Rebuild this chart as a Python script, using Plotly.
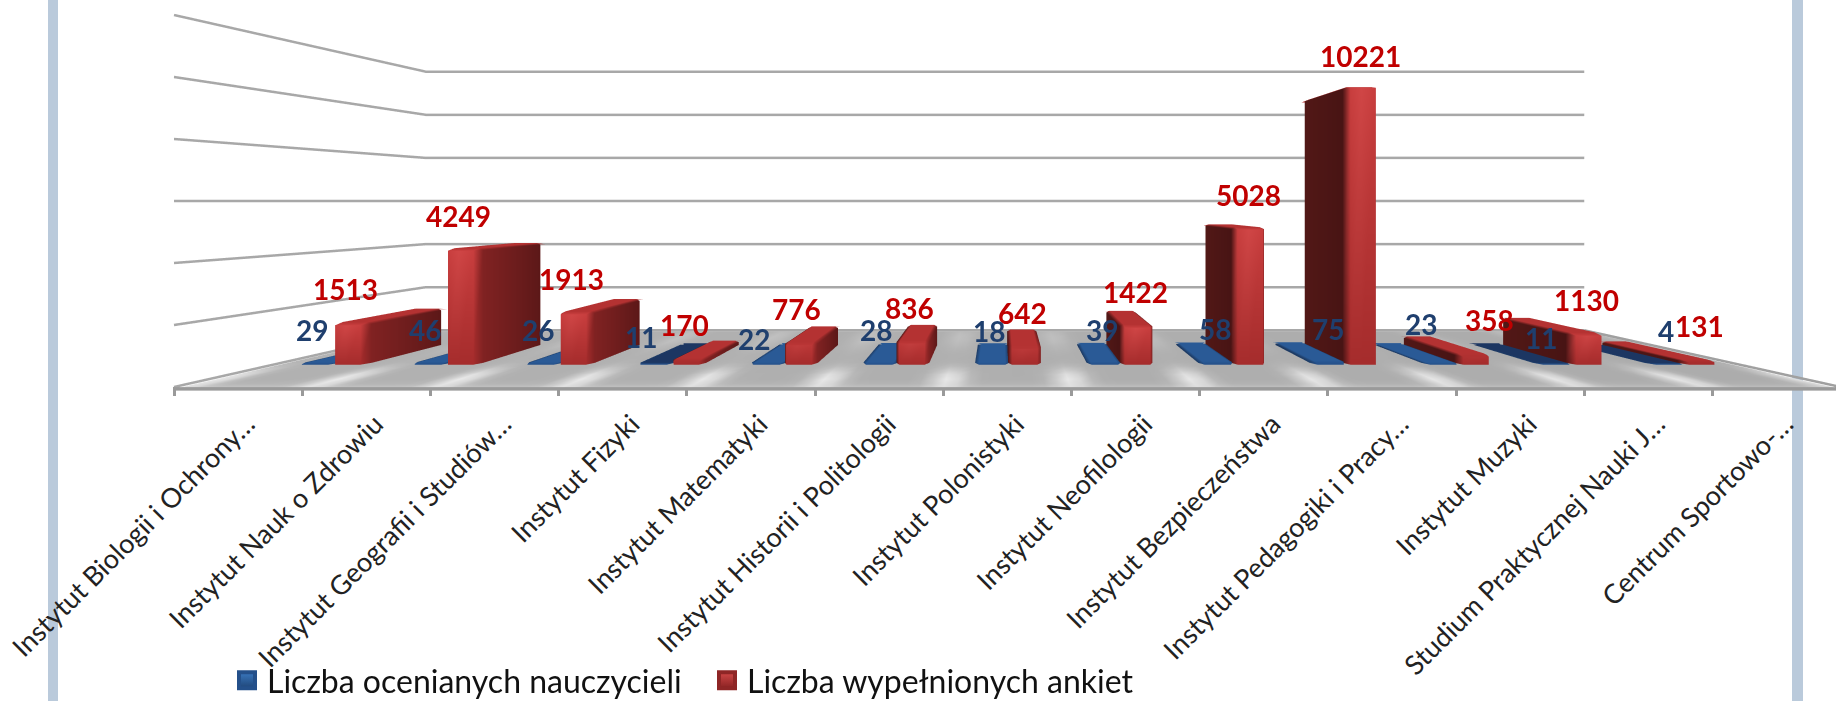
import math
import plotly.graph_objects as go

# ---------- data ----------
categories = [
    "Instytut Biologii i Ochrony…", "Instytut Nauk o Zdrowiu", "Instytut Geografii i Studiów…",
    "Instytut Fizyki", "Instytut Matematyki", "Instytut Historii i Politologii",
    "Instytut Polonistyki", "Instytut Neofilologii", "Instytut Bezpieczeństwa",
    "Instytut Pedagogiki i Pracy…", "Instytut Muzyki", "Studium Praktycznej Nauki J…",
    "Centrum Sportowo-…",
]
teachers = [29, 46, 26, 11, 22, 28, 18, 39, 58, 75, 23, 11, 4]
surveys = [1513, 4249, 1913, 170, 776, 836, 642, 1422, 5028, 10221, 358, 1130, 131]
series_names = ["Liczba ocenianych nauczycieli", "Liczba wypełnionych ankiet"]
value_ticks = [0, 2000, 4000, 6000, 8000, 10000, 12000]

# ---------- layout constants ----------
W, H = 1836, 701
n = len(categories)
VMAX = value_ticks[-1]
cat_px = 128.2
x0_px = 174.0
floor_px = 385.0
step_px = 62.0
back_ratio = 0.695
bar_ratio = 0.88
domain_left = 164.0
domain_h = 402.0
P = (domain_h / 2) / math.tan(math.pi / 8)

PX, PD, PV = 0.1, 0.02, 200.0
xr = [-PX, n + PX]
dr = [-PD, 1 + PD]
zr = [-PV, VMAX + PV]
A = (xr[1] - xr[0]) * cat_px
scale = 3.0 / A
ax = 3.0
az = (zr[1] - zr[0]) / 2000 * step_px * scale
D_f = P * scale
dep = D_f * (1 / back_ratio - 1)      # scene depth of the floor
ay = dep * (dr[1] - dr[0])
eye_y = -(D_f + dep * 0.5)
eye_x = -((x0_px + n / 2 * cat_px) - (domain_left + W) / 2) * scale


def d_of(s):
    return (1 / s - 1) / (1 / back_ratio - 1)


BAR_D0 = d_of(0.88)
BAR_D1 = d_of(0.766)


class Mesh:
    def __init__(self):
        self.x, self.y, self.z, self.c, self.i, self.j, self.k = [], [], [], [], [], [], []

    def poly(self, pts, cols):
        b = len(self.x)
        for p, c in zip(pts, cols):
            self.x.append(p[0]); self.y.append(p[1]); self.z.append(p[2])
            self.c.append("rgb(%d,%d,%d)" % tuple(c))
        for t in range(1, len(pts) - 1):
            self.i.append(b); self.j.append(b + t); self.k.append(b + t + 1)

    def trace(self, name):
        return go.Mesh3d(x=self.x, y=self.y, z=self.z, i=self.i, j=self.j, k=self.k,
                         vertexcolor=self.c, flatshading=False, hoverinfo="skip", name=name,
                         lighting=dict(ambient=1, diffuse=0, specular=0, roughness=1, fresnel=0),
                         showscale=False)


def mix(a, b, t):
    return [a[q] + (b[q] - a[q]) * t for q in range(3)]


RED = dict(fl=(176, 50, 50), fm=(208, 70, 70), ftop=(200, 62, 62), fb=(165, 44, 44),
           sr_f=(128, 34, 34), sr_b=(92, 24, 24), sl_f=(72, 20, 20), sl_b=(82, 24, 22),
           top=(180, 50, 50))
BLUE = dict(fl=(42, 88, 148), fm=(48, 98, 160), ftop=(44, 92, 150), fb=(38, 82, 140),
            sr_f=(30, 62, 105), sr_b=(28, 55, 95), sl_f=(30, 62, 105), sl_b=(28, 55, 95),
            top=(42, 90, 150))


def add_bar(m, xa, xb, ya, yb, h, pal, top=None):
    bx, by = 0.035, 0.03
    bz = min(70.0, h * 0.3)
    t = top or pal["top"]
    zt = h - bz
    xl, xr2 = xa + bx, xb - bx
    yf, yk = ya + by, yb - by
    hf = min(1.0, h / 1200.0)
    ftop = mix(pal["fb"], pal["ftop"], hf)
    fmt = mix(pal["fb"], pal["fm"], hf)
    xm = xa + (xb - xa) * 0.45
    m.poly([(xl, ya, 0), (xm, ya, 0), (xm, ya, zt), (xl, ya, zt)], [pal["fb"], pal["fb"], fmt, ftop])
    m.poly([(xm, ya, 0), (xr2, ya, 0), (xr2, ya, zt), (xm, ya, zt)], [pal["fb"], pal["fb"], ftop, fmt])
    m.poly([(xr2, ya, 0), (xb, yf, 0), (xb, yf, zt), (xr2, ya, zt)], [pal["fb"], pal["sr_f"], pal["sr_f"], ftop])
    m.poly([(xa, yf, 0), (xl, ya, 0), (xl, ya, zt), (xa, yf, zt)], [pal["sl_f"], pal["fb"], ftop, pal["sl_f"]])
    m.poly([(xb, yf, 0), (xb, yk, 0), (xb, yk, zt), (xb, yf, zt)], [pal["sr_f"], pal["sr_b"], pal["sr_b"], pal["sr_f"]])
    m.poly([(xa, yk, 0), (xa, yf, 0), (xa, yf, zt), (xa, yk, zt)], [pal["sl_b"], pal["sl_f"], pal["sl_f"], pal["sl_b"]])
    m.poly([(xl, yf, h), (xr2, yf, h), (xr2, yk, h), (xl, yk, h)], [t] * 4)
    m.poly([(xl, ya, zt), (xr2, ya, zt), (xr2, yf, h), (xl, yf, h)], [ftop, ftop, t, t])
    m.poly([(xr2, yf, h), (xb, yf, zt), (xb, yk, zt), (xr2, yk, h)], [t, pal["sr_f"], pal["sr_b"], t])
    m.poly([(xa, yf, zt), (xl, yf, h), (xl, yk, h), (xa, yk, zt)], [pal["sl_f"], t, t, pal["sl_b"]])
    m.poly([(xl, yk, h), (xr2, yk, h), (xb, yb, zt), (xa, yb, zt)], [t, t, t, t])
    m.poly([(xr2, ya, zt), (xb, yf, zt), (xr2, yf, h)], [ftop, pal["sr_f"], t])
    m.poly([(xl, ya, zt), (xl, yf, h), (xa, yf, zt)], [ftop, t, pal["sl_f"]])


# ---------- floor ----------
floor = Mesh()
Z_FLOOR = -60.0


def floor_col(X, d):
    # bright reflections running in depth through the gaps between the bars
    u = X - math.floor(X)
    gap = min(abs(u - 0.02), abs(u - 1.02))
    band = math.exp(-(gap / 0.14) ** 2)
    front = math.exp(-((d - 0.13) / 0.15) ** 2)
    backb = 0.3 * math.exp(-((d - 0.85) / 0.25) ** 2)
    v = 172 + 6 * (1 - X / n) + 58 * band * min(1.0, front + backb) + 22 * math.exp(-(d / 0.05) ** 2)
    v = min(v, 240)
    return (v, v, v)


NX, ND = n * 10, 16
for a in range(NX):
    for b in range(ND):
        X0, X1 = a / NX * n, (a + 1) / NX * n
        d0, d1 = b / ND, (b + 1) / ND
        floor.poly([(X0, d0, Z_FLOOR), (X1, d0, Z_FLOOR), (X1, d1, Z_FLOOR), (X0, d1, Z_FLOOR)],
                   [floor_col(X0, d0), floor_col(X1, d0), floor_col(X1, d1), floor_col(X0, d1)])

# ---------- bars ----------
reds, blues = Mesh(), Mesh()
for idx in range(n):
    c_top = (28, 54, 98) if teachers[idx] <= 11 else None
    add_bar(blues, idx + 0.22, idx + 0.525, BAR_D0, BAR_D1, teachers[idx], BLUE, c_top)
    add_bar(reds, idx + 0.515, idx + 0.81, BAR_D0, BAR_D1, surveys[idx], RED)

# ---------- gridlines ----------
gx, gy, gz = [], [], []
for v in value_ticks:
    gx += [0, 0, n, None]
    gy += [0, 1, 1, None]
    gz += [v, v, v, None]
front_x, front_y, front_z = [0, n], [0, 0], [Z_FLOOR, Z_FLOOR]
rim_x, rim_y, rim_z = [n, n], [0, 1], [0, 0]

data = [
    floor.trace("floor"),
    go.Scatter3d(x=gx, y=gy, z=gz, mode="lines", line=dict(color="#A8A8A8", width=5),
                 hoverinfo="skip", showlegend=False),
    go.Scatter3d(x=front_x, y=front_y, z=front_z, mode="lines", line=dict(color="#9A9A9A", width=7),
                 hoverinfo="skip", showlegend=False),
    go.Scatter3d(x=rim_x, y=rim_y, z=rim_z, mode="lines", line=dict(color="#A0A0A0", width=5),
                 hoverinfo="skip", showlegend=False),
    blues.trace(series_names[0]),
    reds.trace(series_names[1]),
    go.Scatter(x=[None], y=[None], mode="markers", name=series_names[0], xaxis="x", yaxis="y",
               marker=dict(symbol="square", size=16, color="#3A78BE",
                           gradient=dict(type="vertical", color="#1F4577"),
                           line=dict(color="#24508A", width=4))),
    go.Scatter(x=[None], y=[None], mode="markers", name=series_names[1], xaxis="x", yaxis="y",
               marker=dict(symbol="square", size=16, color="#D04848",
                           gradient=dict(type="vertical", color="#8A2222"),
                           line=dict(color="#8E2626", width=4))),
    go.Scatter(x=[0.5], y=[0], mode="markers", marker=dict(opacity=0), xaxis="x2", yaxis="y",
               showlegend=False, hoverinfo="skip"),
]

# ---------- value labels ----------
plane_cat = cat_px * bar_ratio
plane_val = step_px / 2000 * bar_ratio * 0.984
RED_LABEL = "#C00000"
BLUE_LABEL = "#1F3F6E"
blue_nudge = {3: (-10, -6), 4: (-10, -9), 10: (-20, 6), 11: (-12, -7)}
red_nudge = {10: (16, 0)}
annotations = []
for idx in range(n):
    dx, dy = red_nudge.get(idx, (0, 0))
    annotations.append(dict(x=idx + 0.635, y=surveys[idx], xref="x2", yref="y", text=str(surveys[idx]),
                            showarrow=False, xshift=dx, yshift=33 + dy,
                            font=dict(family="Lato", size=28, color=RED_LABEL, weight="bold")))
    dx, dy = blue_nudge.get(idx, (0, 0))
    annotations.append(dict(x=idx + 0.34, y=teachers[idx], xref="x2", yref="y", text=str(teachers[idx]),
                            showarrow=False, xshift=dx, yshift=32 + dy,
                            font=dict(family="Lato", size=28, color=BLUE_LABEL, weight="bold")))

fig = go.Figure(data)
fig.update_layout(
    width=W, height=H, margin=dict(l=0, r=0, t=0, b=0, autoexpand=False), autosize=False,
    paper_bgcolor="white", plot_bgcolor="rgba(0,0,0,0)",
    font=dict(family="Lato", color="#111111"),
    hovermode=False,
    annotations=annotations,
    shapes=[
        dict(type="rect", xref="paper", yref="paper", x0=48 / W, x1=58 / W, y0=0, y1=1, layer="below",
             fillcolor="#BACADB", line_width=0),
        dict(type="rect", xref="paper", yref="paper", x0=1792 / W, x1=1803 / W, y0=0, y1=1, layer="below",
             fillcolor="#BACADB", line_width=0),
    ],
    legend=dict(orientation="h", x=227 / W, xanchor="left", y=-7 / H, yanchor="bottom",
                font=dict(size=32, family="Lato", color="#111111"), itemsizing="trace",
                entrywidth=435, entrywidthmode="pixels", itemwidth=30,
                bgcolor="rgba(0,0,0,0)", itemclick=False, itemdoubleclick=False),
    xaxis=dict(domain=[0, 1], range=[-x0_px / cat_px, (W - x0_px) / cat_px], anchor="free",
               position=1 - (floor_px + 1) / H,
               tickmode="array", tickvals=[q + 0.5 for q in range(n)], ticktext=categories,
               tickangle=-45, ticks="", showgrid=False, zeroline=False, showline=False,
               tickfont=dict(family="Lato", size=27, color="#222222"),
               ticklabelstandoff=16, ticklabelshift=9, automargin=False,
               minor=dict(tickmode="array", tickvals=list(range(n)), ticks="outside", ticklen=9,
                          tickwidth=2.5, tickcolor="#9A9A9A", showgrid=False)),
    xaxis2=dict(overlaying="x", domain=[0, 1], visible=False,
                range=[n / 2 + (0 - (x0_px + n / 2 * cat_px)) / plane_cat,
                       n / 2 + (W - (x0_px + n / 2 * cat_px)) / plane_cat]),
    yaxis=dict(domain=[0, 1], visible=False, range=[-(H - 363) / plane_val, 363 / plane_val]),
    scene=dict(
        domain=dict(x=[domain_left / W, 1], y=[1 - domain_h / H, 1]),
        bgcolor="rgba(0,0,0,0)",
        xaxis=dict(visible=False, range=xr, showspikes=False),
        yaxis=dict(visible=False, range=dr, showspikes=False),
        zaxis=dict(visible=False, range=zr, showspikes=False),
        aspectmode="manual",
        aspectratio=dict(x=ax, y=ay, z=az),
        camera=dict(eye=dict(x=eye_x, y=eye_y, z=0), center=dict(x=eye_x, y=0, z=0),
                    up=dict(x=0, y=0, z=1), projection=dict(type="perspective")),
    ),
)
fig.write_html("out.html", config={"displayModeBar": False},
               post_script="document.body.style.margin='0';")
